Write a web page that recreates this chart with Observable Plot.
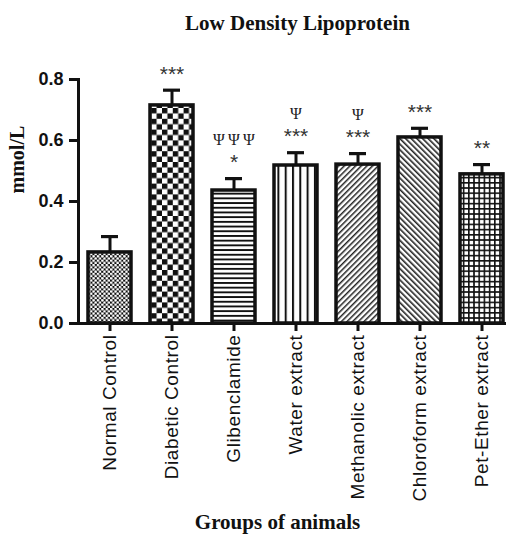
<!DOCTYPE html>
<html>
<head>
<meta charset="utf-8">
<script src="https://cdn.jsdelivr.net/npm/d3@7"></script>
<script src="https://cdn.jsdelivr.net/npm/@observablehq/plot@0.6"></script>
<style>
  html, body { margin: 0; padding: 0; background: #fff; }
  #chart svg { display: block; }
  #chart g[aria-label="x-axis tick label"] text { letter-spacing: 0.6px; }
</style>
</head>
<body>
<svg width="0" height="0" style="position:absolute">
  <defs>
    <pattern id="pat0" patternUnits="userSpaceOnUse" width="4.4" height="4.4">
      <rect width="4.4" height="4.4" fill="#111"/>
      <circle cx="1.1" cy="1.1" r="1.35" fill="#fff"/>
      <circle cx="3.3" cy="3.3" r="1.35" fill="#fff"/>
    </pattern>
    <pattern id="pat1" patternUnits="userSpaceOnUse" width="10.8" height="10.8">
      <rect width="10.8" height="10.8" fill="#fff"/>
      <rect x="0" y="0" width="5.4" height="5.4" fill="#111"/>
      <rect x="5.4" y="5.4" width="5.4" height="5.4" fill="#111"/>
    </pattern>
    <pattern id="pat2" patternUnits="userSpaceOnUse" width="10" height="4.7">
      <rect width="10" height="4.7" fill="#fff"/>
      <rect x="0" y="0" width="10" height="1.9" fill="#111"/>
    </pattern>
    <pattern id="pat3" patternUnits="userSpaceOnUse" width="7.3" height="10">
      <rect width="7.3" height="10" fill="#fff"/>
      <rect x="0" y="0" width="2" height="10" fill="#111"/>
    </pattern>
    <pattern id="pat4" patternUnits="userSpaceOnUse" width="4" height="4" patternTransform="rotate(45)">
      <rect width="4" height="4" fill="#fff"/>
      <rect x="0" y="0" width="1.5" height="4" fill="#222"/>
    </pattern>
    <pattern id="pat5" patternUnits="userSpaceOnUse" width="4" height="4" patternTransform="rotate(-45)">
      <rect width="4" height="4" fill="#fff"/>
      <rect x="0" y="0" width="1.6" height="4" fill="#222"/>
    </pattern>
    <pattern id="pat6" patternUnits="userSpaceOnUse" width="5.2" height="5.2">
      <rect width="5.2" height="5.2" fill="#fff"/>
      <rect x="0" y="0" width="5.2" height="1.6" fill="#111"/>
      <rect x="0" y="0" width="1.6" height="5.2" fill="#111"/>
    </pattern>
  </defs>
</svg>
<div id="chart"></div>
<script>
const groups = ["Normal Control", "Diabetic Control", "Glibenclamide", "Water extract", "Methanolic extract", "Chloroform extract", "Pet-Ether extract"];
const means  = [0.233, 0.715, 0.436, 0.518, 0.521, 0.610, 0.489];
const errors = [0.052, 0.050, 0.039, 0.042, 0.036, 0.030, 0.032];
const starLabels = ["", "***", "*", "***", "***", "***", "**"];
const psiLabels  = ["", "", "Ψ\u2009Ψ\u2009Ψ", "Ψ", "Ψ", "", ""];
const yTicks = [0.0, 0.2, 0.4, 0.6, 0.8];
const patterns = ["url(#pat0)", "url(#pat1)", "url(#pat2)", "url(#pat3)", "url(#pat4)", "url(#pat5)", "url(#pat6)"];

const data = groups.map((g, i) => ({
  group: g, mean: means[i], err: errors[i], top: means[i] + errors[i],
  star: starLabels[i], psi: psiLabels[i]
}));

const serif = "'Liberation Serif', 'Times New Roman', serif";
const sans = "'Liberation Sans', Arial, sans-serif";

const chart = Plot.plot({
  width: 506,
  height: 534,
  marginLeft: 78,
  marginRight: 0,
  marginTop: 79,
  marginBottom: 211,
  style: { fontFamily: sans, color: "#111", background: "#fff" },
  x: { type: "band", domain: groups, range: [78, 514], paddingInner: 0.3, paddingOuter: 0.15 },
  y: { domain: [0, 0.8] },
  marks: [
    Plot.ruleX(data, { x: "group", y1: "mean", y2: "top", stroke: "#111", strokeWidth: 3 }),
    Plot.tickY(data, { x: "group", y: "top", stroke: "#111", strokeWidth: 3.2, insetLeft: 13, insetRight: 13 }),
    ...data.map((d, i) => Plot.barY([d], { x: "group", y: "mean", fill: patterns[i], stroke: "#111", strokeWidth: 3.5 })),
    Plot.text(data, { x: "group", y: "top", text: "star", dy: -16, lineAnchor: "middle", fontSize: 21, fontFamily: sans, fill: "#333" }),
    Plot.text(data, { x: "group", y: "top", text: "psi", dy: -39, lineAnchor: "middle", fontSize: 16, fontFamily: serif, fill: "#222" }),
    Plot.axisY({ ticks: yTicks, tickFormat: d3.format(".1f"), tickSize: 9, tickPadding: 6, strokeWidth: 3, fontSize: 18, fontWeight: "bold", fontFamily: sans, label: null }),
    Plot.axisX({ tickSize: 8, tickPadding: 3, tickRotate: -90, strokeWidth: 3, fontSize: 19, fontFamily: sans, label: null }),
    Plot.frame({ anchor: "left", strokeWidth: 3, stroke: "#111" }),
    Plot.ruleY([0], { stroke: "#111", strokeWidth: 3 }),
    Plot.text(["Low Density Lipoprotein"], { frameAnchor: "top", dx: 5, dy: -50, lineAnchor: "bottom", fontSize: 21, fontWeight: "bold", fontFamily: serif }),
    Plot.text(["Groups of animals"], { frameAnchor: "bottom", dx: -15, dy: 205, lineAnchor: "bottom", fontSize: 21, fontWeight: "bold", fontFamily: serif }),
    Plot.text(["mmol/L"], { frameAnchor: "left", dx: -61, dy: -8, rotate: -90, fontSize: 20, fontWeight: "bold", fontFamily: serif })
  ]
});
document.getElementById("chart").appendChild(chart);
</script>
</body>
</html>
